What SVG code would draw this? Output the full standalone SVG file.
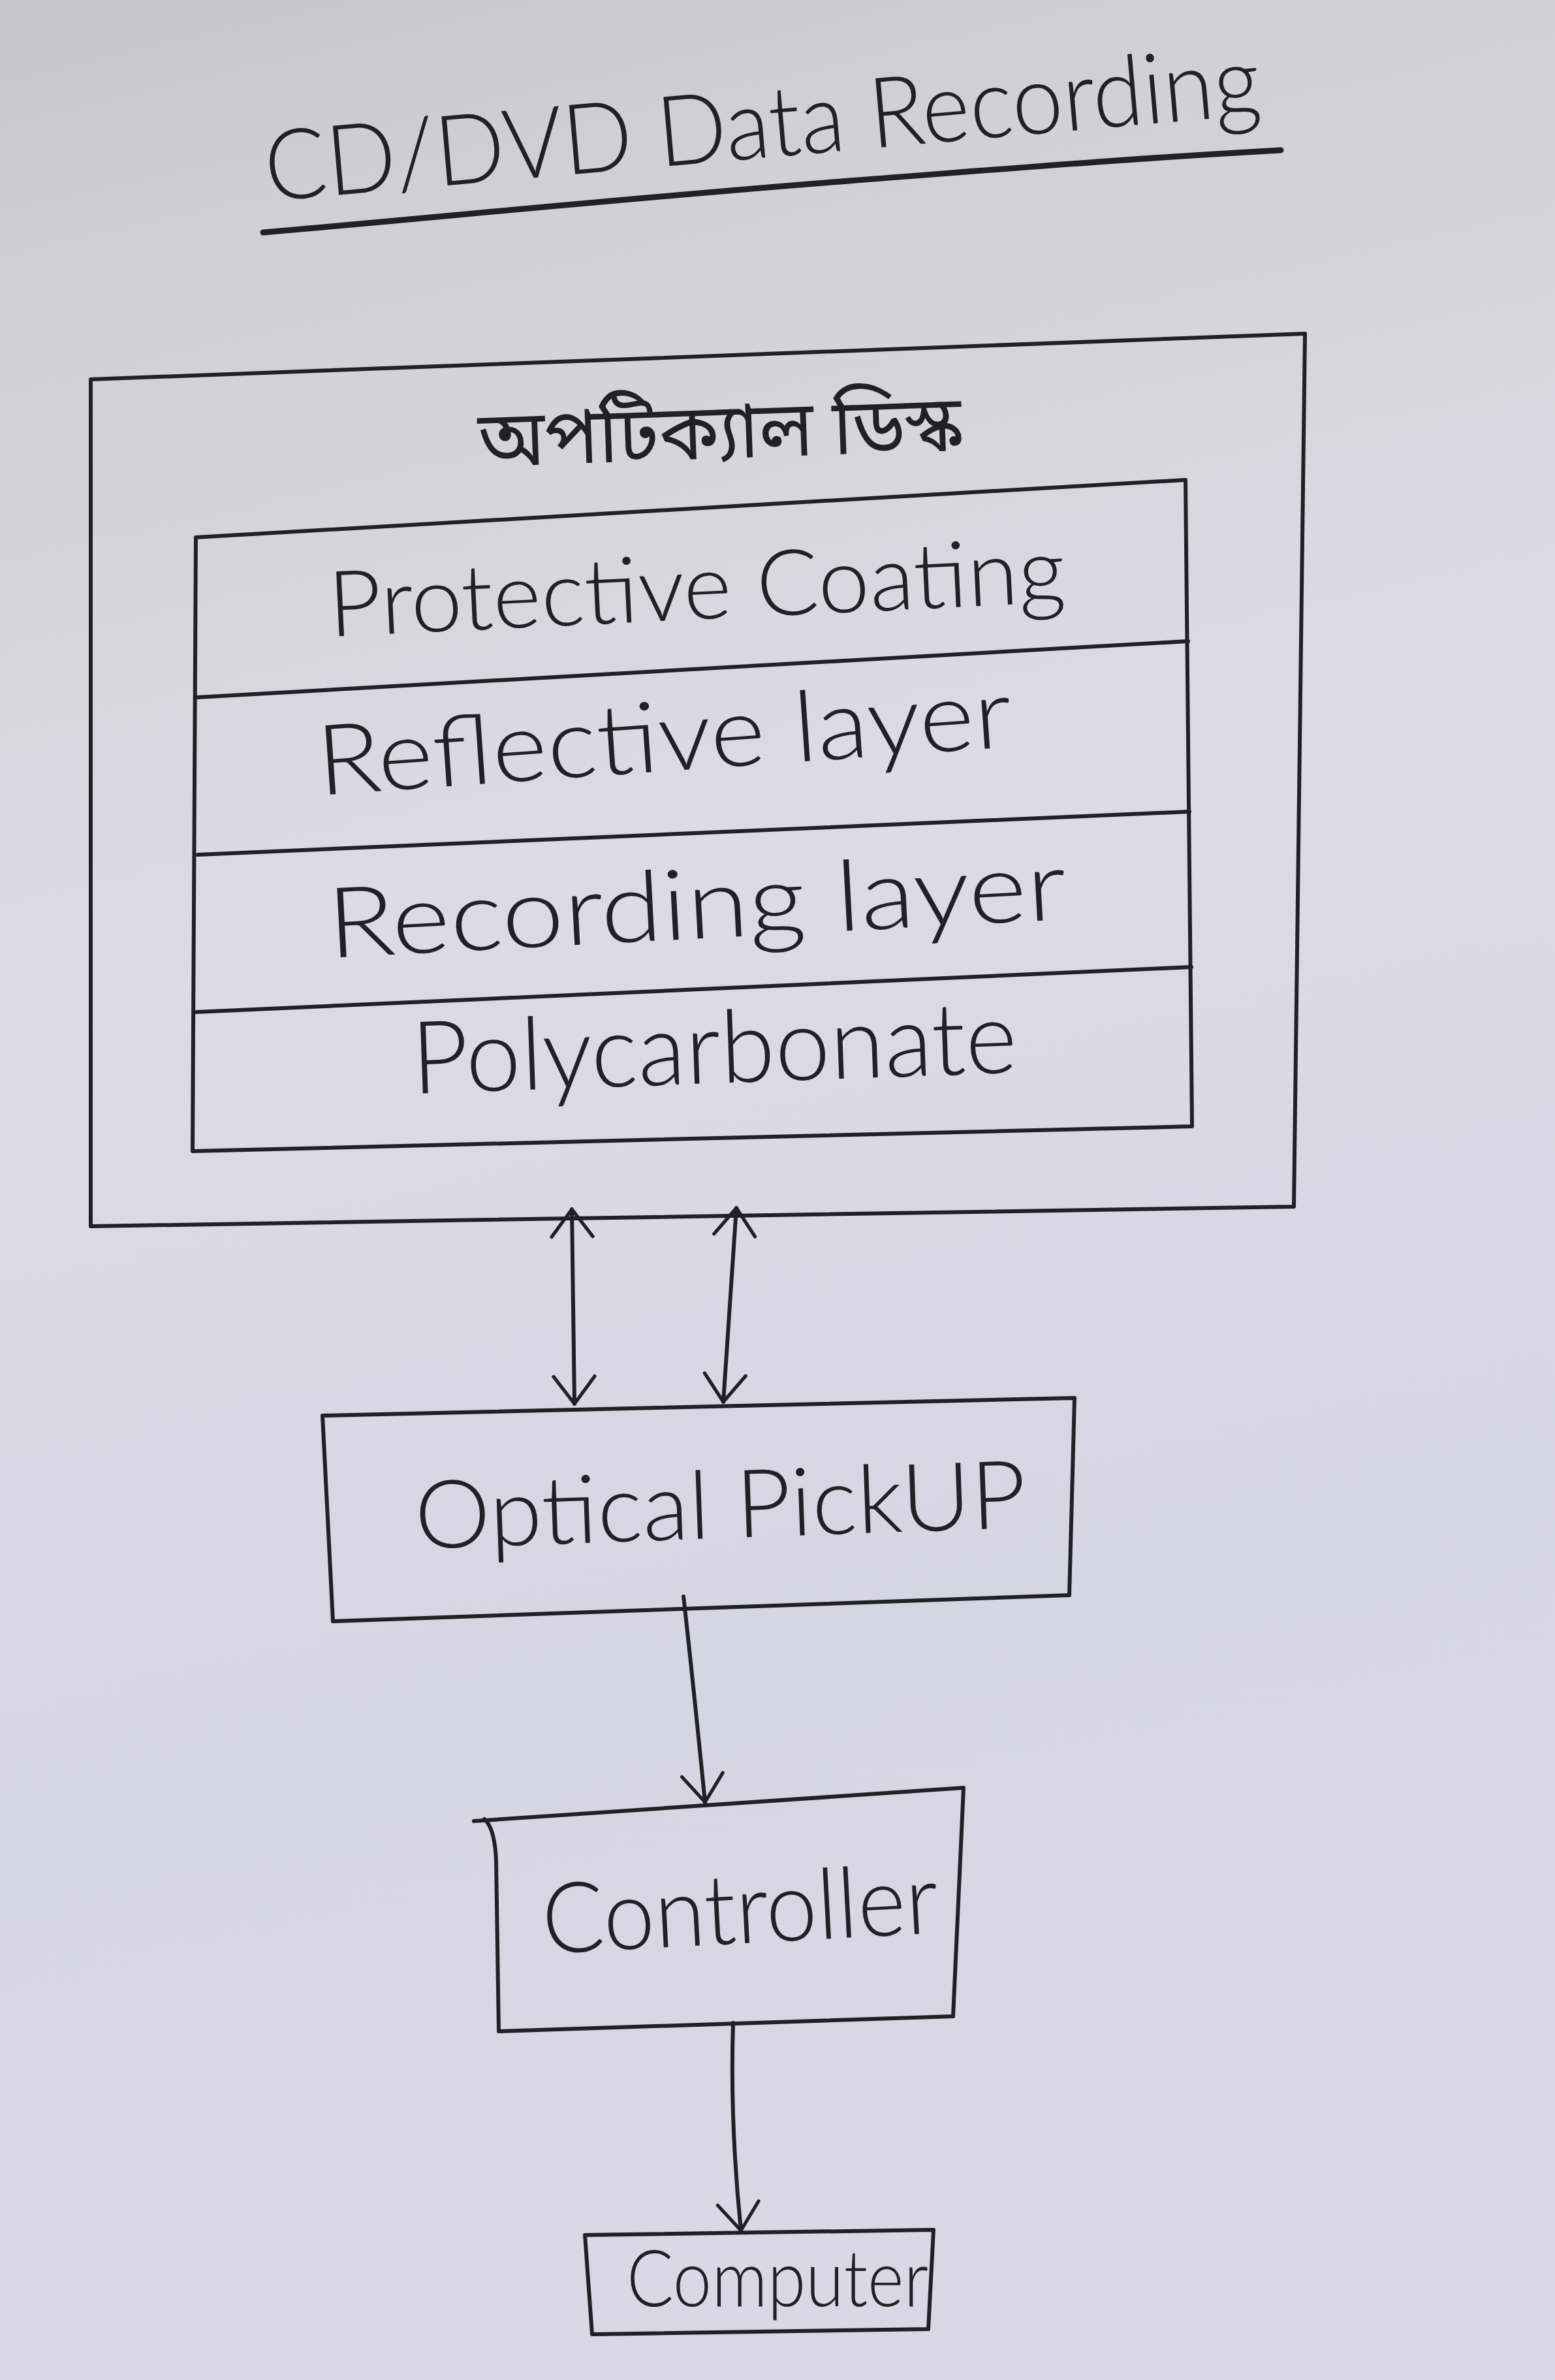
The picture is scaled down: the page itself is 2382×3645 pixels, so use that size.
<svg xmlns="http://www.w3.org/2000/svg" width="2382" height="3645" viewBox="0 0 2382 3645">
<defs>
  <linearGradient id="paper" x1="0" y1="0" x2="0.15" y2="1">
    <stop offset="0" stop-color="#c6c5ca"/>
    <stop offset="0.12" stop-color="#d0cfd6"/>
    <stop offset="0.4" stop-color="#dcdbe5"/>
    <stop offset="0.75" stop-color="#d6d5e2"/>
    <stop offset="1" stop-color="#d9d8e4"/>
  </linearGradient>
  <marker id="chev" viewBox="0 0 40 60" refX="40" refY="30" markerWidth="42" markerHeight="63" markerUnits="userSpaceOnUse" orient="auto-start-reverse" overflow="visible">
    <path d="M0,0 L40,30 L0,60" fill="none" stroke="#202027" stroke-width="5" stroke-linecap="round" stroke-linejoin="round"/>
  </marker>
  <style>
    .ink{fill:none;stroke:#202027;stroke-width:6;stroke-linecap:round;stroke-linejoin:round}
    .lbl{font-family:"Lato","Liberation Sans","DejaVu Sans",sans-serif;font-weight:300;fill:#202027}
    .bn{font-family:"Noto Sans Bengali","Noto Sans","Lato",sans-serif;font-weight:400;fill:#202027}
  </style>
</defs>
<rect width="2382" height="3645" fill="url(#paper)"/>

<g id="title">
  <text class="lbl" x="410" y="308" font-size="150" textLength="1530" lengthAdjust="spacingAndGlyphs" transform="rotate(-5 410 308)">CD/DVD Data Recording</text>
  <path class="ink" style="stroke-width:9" d="M403,356 C700,330 1000,300 1300,277 S1700,245 1962,230"/>
</g>

<g id="optical-disk">
  <path class="ink" d="M139,581 L1999,511 L1982,1848 L139,1878 Z"/>
  <text class="bn" x="1104" y="702" font-size="120" text-anchor="middle" textLength="740" lengthAdjust="spacingAndGlyphs" transform="rotate(-2 1104 702)">অপটিক্যাল ডিস্ক</text>
</g>

<g id="layers">
  <path class="ink" d="M300,823 L1816,735 L1826,1725 L295,1763 Z"/>
  <g id="layer-protective">
    <text class="lbl" x="505" y="975" font-size="140" textLength="1130" lengthAdjust="spacingAndGlyphs" transform="rotate(-2.7 505 975)">Protective Coating</text>
  </g>
  <path class="ink" d="M302,1068 L1820,982"/>
  <g id="layer-reflective">
    <text class="lbl" x="489" y="1218" font-size="150" textLength="1066" lengthAdjust="spacingAndGlyphs" transform="rotate(-4 489 1218)">Reflective layer</text>
  </g>
  <path class="ink" d="M303,1309 L1822,1243"/>
  <g id="layer-recording">
    <text class="lbl" x="504" y="1467" font-size="150" textLength="1133" lengthAdjust="spacingAndGlyphs" transform="rotate(-3 504 1467)">Recording layer</text>
  </g>
  <path class="ink" d="M300,1550 L1825,1481"/>
  <g id="layer-polycarbonate">
    <text class="lbl" x="632" y="1675" font-size="155" textLength="928" lengthAdjust="spacingAndGlyphs" transform="rotate(-2 632 1675)">Polycarbonate</text>
  </g>
</g>

<g id="optical-pickup">
  <path class="ink" d="M494,2168 L1646,2141 L1638,2443 L510,2483 Z"/>
  <text class="lbl" x="637" y="2372" font-size="145" textLength="937" lengthAdjust="spacingAndGlyphs" transform="rotate(-2 637 2372)">Optical PickUP</text>
</g>

<g id="controller">
  <path class="ink" d="M726,2789 L1476,2738 L1460,3088 L764,3111 L760,2850 Q758,2800 742,2786"/>
  <text class="lbl" x="833" y="2992" font-size="150" textLength="607" lengthAdjust="spacingAndGlyphs" transform="rotate(-3 833 2992)">Controller</text>
</g>

<g id="computer">
  <path class="ink" d="M896,3423 L1430,3415 L1422,3567 L907,3575 Z"/>
  <text class="lbl" x="960" y="3532" font-size="120" textLength="462" lengthAdjust="spacingAndGlyphs">Computer</text>
</g>

<g id="connectors">
  <path class="ink" d="M876,1852 L880,2150" marker-start="url(#chev)" marker-end="url(#chev)"/>
  <path class="ink" d="M1128,1850 L1108,2147" marker-start="url(#chev)" marker-end="url(#chev)"/>
  <path class="ink" d="M1047,2445 Q1060,2560 1080,2760" marker-end="url(#chev)"/>
  <path class="ink" d="M1123,3098 Q1118,3250 1135,3416" marker-end="url(#chev)"/>
</g>
</svg>
